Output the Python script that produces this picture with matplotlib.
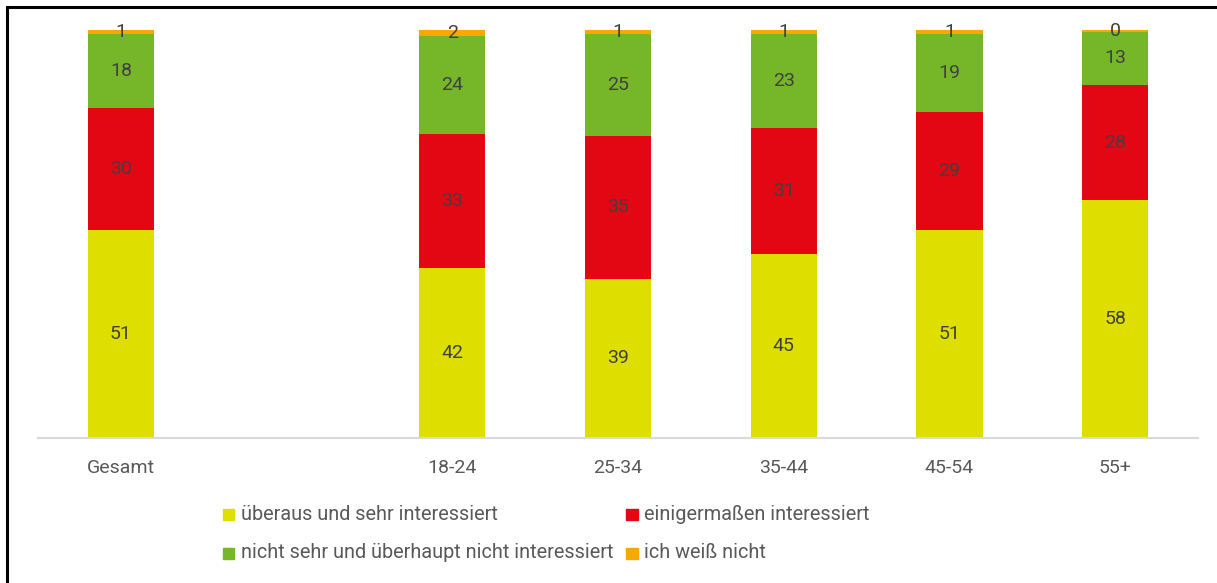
import matplotlib.pyplot as plt
from matplotlib.patches import Rectangle

plt.rcParams['font.family'] = ['Roboto', 'DejaVu Sans']

categories = ['Gesamt', '18-24', '25-34', '35-44', '45-54', '55+']
positions = [0, 2, 3, 4, 5, 6]

sehr = [51, 41.6, 39, 45, 51, 58.3]
einigermassen = [30, 32.9, 35, 31, 29, 28.2]
nicht = [18, 24, 25, 23, 19, 13.1]
weiss_nicht = [1, 1.5, 1, 1, 1, 0.4]

series = [
    ('überaus und sehr interessiert', sehr, '#DEDE00'),
    ('einigermaßen interessiert', einigermassen, '#E30613'),
    ('nicht sehr und überhaupt nicht interessiert', nicht, '#76B72A'),
    ('ich weiß nicht', weiss_nicht, '#F9A800'),
]

W, H = 1217, 583
fig = plt.figure(figsize=(W / 100, H / 100), dpi=100)
ax = fig.add_axes([38 / W, (H - 438) / H, 1160 / W, 408 / H])

bottom = [0] * len(categories)
for name, vals, color in series:
    ax.bar(positions, vals, width=0.4, bottom=bottom, color=color, label=name)
    for x, b, v in zip(positions, bottom, vals):
        ax.text(x, b + v / 2, f'{v:.0f}', ha='center', va='center',
                fontsize=14, color='#404040')
    bottom = [b + v for b, v in zip(bottom, vals)]

ax.set_xlim(-0.5, 6.5)
ax.set_ylim(0, 100)
ax.set_xticks(positions)
ax.set_xticklabels(categories, fontsize=14, color='#595959')
ax.tick_params(axis='x', length=0, pad=15)
ax.set_yticks([])
for s in ['top', 'right', 'left']:
    ax.spines[s].set_visible(False)
ax.spines['bottom'].set_color('#D9D9D9')
ax.spines['bottom'].set_linewidth(1.5)

# legend, two columns placed by hand
leg_pos = [(223, 514), (626, 514), (223, 553), (626, 553)]
for (name, vals, color), (px, py) in zip(series, leg_pos):
    fig.patches.append(Rectangle((px / W, 1 - (py + 6) / H), 11.5 / W, 11.5 / H,
                                 transform=fig.transFigure, color=color))
    fig.text((px + 18) / W, 1 - py / H, name, ha='left', va='center',
             fontsize=14.3, color='#595959')

# cropped frame: only left and top edges visible
fig.patches.append(Rectangle((7 / W, -0.2), 1.5, 1.2 - 7 / H, fill=False,
                             edgecolor='black', linewidth=2.2,
                             transform=fig.transFigure))

plt.savefig('out.png', dpi=100)
